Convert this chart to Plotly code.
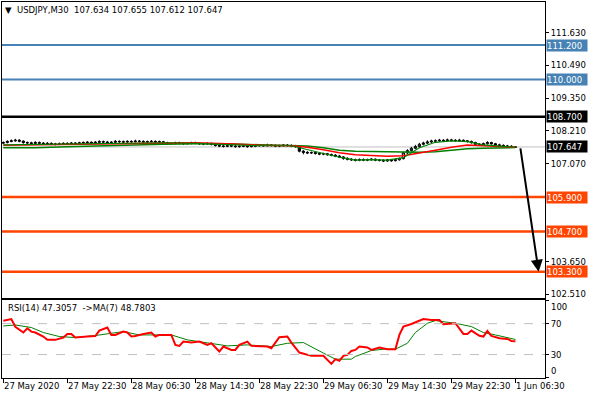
import plotly.graph_objects as go

# USDJPY M30 candles, one per bar index (27 May 14:30 .. 1 Jun 06:30)
opens = [
    107.78, 107.80, 107.84, 107.86, 107.88, 107.85, 107.80, 107.79, 107.77, 107.80,
    107.78, 107.76, 107.77, 107.75, 107.74, 107.75, 107.77, 107.76, 107.78, 107.77,
    107.79, 107.80, 107.81, 107.78, 107.81, 107.83, 107.82, 107.80, 107.81, 107.84,
    107.83, 107.82, 107.84, 107.83, 107.85, 107.84, 107.82, 107.83, 107.84, 107.82,
    107.83, 107.80, 107.76, 107.77, 107.79, 107.78, 107.76, 107.77, 107.79, 107.78,
    107.76, 107.75, 107.77, 107.74, 107.70, 107.68, 107.67, 107.69, 107.68, 107.66,
    107.67, 107.68, 107.66, 107.67, 107.69, 107.70, 107.69, 107.71, 107.70, 107.68,
    107.69, 107.71, 107.70, 107.68, 107.66, 107.50, 107.46, 107.44, 107.45, 107.42,
    107.40, 107.41, 107.38, 107.36, 107.33, 107.30, 107.25, 107.22, 107.20, 107.18,
    107.21, 107.19, 107.20, 107.22, 107.19, 107.18, 107.16, 107.19, 107.17, 107.20,
    107.24, 107.44, 107.52, 107.60, 107.66, 107.74, 107.78, 107.82, 107.85, 107.86,
    107.88, 107.87, 107.89, 107.88, 107.87, 107.88, 107.86, 107.84, 107.80, 107.74,
    107.72, 107.76, 107.80, 107.76, 107.72, 107.70, 107.68, 107.67, 107.634,
]
highs = [
    107.84, 107.88, 107.91, 107.93, 107.92, 107.88, 107.84, 107.83, 107.85, 107.84,
    107.82, 107.82, 107.81, 107.79, 107.80, 107.81, 107.81, 107.82, 107.82, 107.83,
    107.84, 107.85, 107.84, 107.85, 107.88, 107.87, 107.86, 107.85, 107.89, 107.88,
    107.87, 107.88, 107.88, 107.90, 107.89, 107.88, 107.87, 107.89, 107.88, 107.87,
    107.86, 107.83, 107.81, 107.83, 107.83, 107.81, 107.81, 107.83, 107.83, 107.81,
    107.80, 107.81, 107.80, 107.77, 107.74, 107.72, 107.73, 107.73, 107.72, 107.71,
    107.73, 107.72, 107.71, 107.74, 107.75, 107.74, 107.76, 107.75, 107.74, 107.73,
    107.75, 107.75, 107.74, 107.72, 107.69, 107.54, 107.50, 107.49, 107.49, 107.46,
    107.45, 107.44, 107.42, 107.40, 107.37, 107.33, 107.29, 107.26, 107.24, 107.25,
    107.25, 107.24, 107.26, 107.25, 107.23, 107.22, 107.23, 107.23, 107.24, 107.28,
    107.48, 107.57, 107.65, 107.72, 107.79, 107.83, 107.88, 107.90, 107.91, 107.93,
    107.92, 107.94, 107.93, 107.92, 107.93, 107.91, 107.89, 107.87, 107.83, 107.78,
    107.80, 107.85, 107.83, 107.79, 107.76, 107.74, 107.72, 107.71, 107.655,
]
lows = [
    107.74, 107.77, 107.81, 107.83, 107.81, 107.76, 107.75, 107.73, 107.74, 107.74,
    107.72, 107.73, 107.71, 107.70, 107.71, 107.72, 107.72, 107.73, 107.73, 107.74,
    107.76, 107.77, 107.74, 107.75, 107.78, 107.78, 107.76, 107.77, 107.78, 107.79,
    107.78, 107.79, 107.79, 107.80, 107.80, 107.78, 107.79, 107.80, 107.78, 107.79,
    107.76, 107.72, 107.73, 107.74, 107.74, 107.72, 107.73, 107.74, 107.74, 107.72,
    107.71, 107.72, 107.70, 107.66, 107.64, 107.63, 107.64, 107.64, 107.62, 107.62,
    107.64, 107.62, 107.63, 107.64, 107.66, 107.65, 107.66, 107.66, 107.64, 107.64,
    107.66, 107.66, 107.64, 107.62, 107.46, 107.39, 107.40, 107.40, 107.38, 107.36,
    107.36, 107.34, 107.32, 107.29, 107.26, 107.20, 107.18, 107.16, 107.14, 107.15,
    107.15, 107.15, 107.17, 107.15, 107.14, 107.12, 107.13, 107.13, 107.14, 107.17,
    107.21, 107.40, 107.49, 107.57, 107.63, 107.70, 107.75, 107.79, 107.81, 107.83,
    107.83, 107.84, 107.84, 107.83, 107.84, 107.82, 107.80, 107.76, 107.70, 107.68,
    107.69, 107.73, 107.72, 107.68, 107.66, 107.64, 107.63, 107.62, 107.612,
]
closes = [
    107.80, 107.84, 107.86, 107.88, 107.85, 107.80, 107.79, 107.77, 107.80, 107.78,
    107.76, 107.77, 107.75, 107.74, 107.75, 107.77, 107.76, 107.78, 107.77, 107.79,
    107.80, 107.81, 107.78, 107.81, 107.83, 107.82, 107.80, 107.81, 107.84, 107.83,
    107.82, 107.84, 107.83, 107.85, 107.84, 107.82, 107.83, 107.84, 107.82, 107.83,
    107.80, 107.76, 107.77, 107.79, 107.78, 107.76, 107.77, 107.79, 107.78, 107.76,
    107.75, 107.77, 107.74, 107.70, 107.68, 107.67, 107.69, 107.68, 107.66, 107.67,
    107.68, 107.66, 107.67, 107.69, 107.70, 107.69, 107.71, 107.70, 107.68, 107.69,
    107.71, 107.70, 107.68, 107.66, 107.50, 107.46, 107.44, 107.45, 107.42, 107.40,
    107.41, 107.38, 107.36, 107.33, 107.30, 107.25, 107.22, 107.20, 107.18, 107.21,
    107.19, 107.20, 107.22, 107.19, 107.18, 107.16, 107.19, 107.17, 107.20, 107.24,
    107.44, 107.52, 107.60, 107.66, 107.74, 107.78, 107.82, 107.85, 107.86, 107.88,
    107.87, 107.89, 107.88, 107.87, 107.88, 107.86, 107.84, 107.80, 107.74, 107.72,
    107.76, 107.80, 107.76, 107.72, 107.70, 107.68, 107.67, 107.66, 107.647,
]
bars = list(range(len(closes)))

# moving averages
ma_bars = [0, 8, 16, 24, 32, 40, 48, 56, 64, 72, 76, 80, 84, 88, 92, 96,
           100, 104, 108, 112, 116, 120, 124, 128]
ma_fast = [107.723, 107.741, 107.741, 107.758, 107.793, 107.793, 107.775, 107.723,
           107.689, 107.689, 107.550, 107.411, 107.290, 107.186, 107.203, 107.186,
           107.273, 107.619, 107.810, 107.862, 107.834, 107.723, 107.682, 107.637]
ma_mid = [107.706, 107.723, 107.723, 107.741, 107.775, 107.793, 107.793, 107.758,
          107.706, 107.689, 107.637, 107.550, 107.446, 107.377, 107.342, 107.325,
          107.342, 107.429, 107.533, 107.637, 107.716, 107.689, 107.671, 107.637]
ma_slow = [107.619, 107.619, 107.654, 107.689, 107.723, 107.741, 107.758, 107.758,
           107.723, 107.706, 107.678, 107.619, 107.533, 107.498, 107.481, 107.463,
           107.470, 107.463, 107.481, 107.533, 107.585, 107.602, 107.609, 107.626]

# RSI(14) and its MA(7)
rsi_bars = [0, 2, 3, 5, 6, 7, 8, 10, 11, 13, 15, 16, 17, 18, 21, 23, 24, 26, 27, 28,
            30, 31, 32, 33, 35, 37, 38, 39, 42, 43, 44, 45, 47, 49, 51, 52, 54, 55,
            57, 58, 59, 61, 62, 66, 67, 69, 71, 72, 74, 76, 77, 80, 81, 82, 83, 84,
            85, 86, 87, 88, 89, 91, 92, 94, 96, 98, 99, 100, 102, 103, 105, 107,
            109, 110, 112, 113, 115, 116, 117, 119, 120, 121, 122, 124, 126, 127, 128]
rsi_vals = [73.8, 75.9, 66, 58.5, 64, 59.7, 58.5, 53.3, 49, 49, 52, 56.7, 56.7, 52,
            53.3, 54, 61, 65, 55.4, 55.4, 59.7, 58.5, 53.3, 54, 56.7, 58.5, 53.3,
            55.4, 55.4, 42.5, 41.2, 46.8, 45.6, 46.8, 42.5, 44.6, 33.9, 40.4, 36, 36,
            42.5, 46.8, 41.2, 40.4, 38.2, 52.4, 53.3, 45.5, 32.6, 29.5, 28.3, 28.3,
            23.1, 17.9, 24, 21.8, 28.3, 29.5, 34.7, 36, 40.4, 39.1, 36, 39.1, 36.9,
            36.9, 55.4, 66.2, 69.5, 71.7, 76, 74.7, 74.7, 69.2, 69.5, 70.5, 56.7,
            56.7, 61, 54.2, 53.3, 60.5, 54.2, 51.1, 50.2, 47.6, 47.3]
sig_bars = [0, 3, 7, 10, 14, 18, 23, 30, 34, 38, 42, 46, 51, 56, 61, 67, 71, 75,
            80, 83, 87, 88, 92, 95, 98, 101, 103, 106, 108, 113, 117, 120, 123, 128]
sig_vals = [67, 68.3, 65, 58.5, 53.3, 52, 54.6, 59.7, 55.4, 55.4, 55.4, 49, 45.5,
            41.2, 42.5, 40.4, 44.6, 45.5, 31.9, 24, 24, 27.5, 35.2, 36.9, 36.9, 44.6,
            58.5, 70.5, 73.9, 70.5, 66.2, 58.5, 55.4, 49.5]

# horizontal levels
blue_levels = [111.2, 110.0]
black_level = 108.7
orange_levels = [105.9, 104.7, 103.3]
last_price = 107.647

price_ticks = [102.51, 103.65, 107.07, 108.21, 109.35, 110.49, 111.63]
time_ticks = [0, 16, 32, 48, 64, 80, 96, 112, 128]
time_labels = ["27 May 2020", "27 May 22:30", "28 May 06:30", "28 May 14:30",
               "28 May 22:30", "29 May 06:30", "29 May 14:30", "29 May 22:30",
               "1 Jun 06:30"]

FONT = "DejaVu Sans"
W, H = 590, 400
x_dom = [2 / W, 545 / W]
x_rng = [-0.33, 135.4]

fig = go.Figure()

fig.add_trace(go.Scatter(x=ma_bars, y=ma_slow, mode="lines",
                         line=dict(color="#008000", width=1.5), xaxis="x", yaxis="y"))
fig.add_trace(go.Scatter(x=ma_bars, y=ma_mid, mode="lines",
                         line=dict(color="#FF0000", width=1.5), xaxis="x", yaxis="y"))
fig.add_trace(go.Scatter(x=ma_bars, y=ma_fast, mode="lines",
                         line=dict(color="#008000", width=1.2), xaxis="x", yaxis="y"))
fig.add_trace(go.Candlestick(
    x=bars, open=opens, high=highs, low=lows, close=closes,
    increasing=dict(line=dict(color="black", width=1), fillcolor="white"),
    decreasing=dict(line=dict(color="black", width=1), fillcolor="black"),
    whiskerwidth=0, xaxis="x", yaxis="y",
))

fig.add_trace(go.Scatter(x=sig_bars, y=sig_vals, mode="lines",
                         line=dict(color="#008000", width=1), xaxis="x2", yaxis="y2"))
fig.add_trace(go.Scatter(x=rsi_bars, y=rsi_vals, mode="lines",
                         line=dict(color="#FF0000", width=2), xaxis="x2", yaxis="y2"))

# level lines
def hline(y, color, width, yref="y", dash="solid"):
    fig.add_shape(type="line", xref="x domain", x0=0, x1=1, yref=yref, y0=y, y1=y,
                  line=dict(color=color, width=width, dash=dash), layer="below")

hline(last_price, "#C0C0C0", 1)
for v in blue_levels:
    hline(v, "#4682B4", 2)
hline(black_level, "black", 2.5)
for v in orange_levels:
    hline(v, "#FF4500", 2.5)
fig.add_shape(type="line", xref="x2 domain", x0=0, x1=1, yref="y2", y0=70, y1=70,
              line=dict(color="#C0C0C0", width=1, dash="dash"))
fig.add_shape(type="line", xref="x2 domain", x0=0, x1=1, yref="y2", y0=30, y1=30,
              line=dict(color="#C0C0C0", width=1, dash="dash"))

# price boxes on the right scale
def price_box(v, color):
    fig.add_annotation(x=546 / W, xref="paper", y=v, yref="y", xanchor="left",
                       text=f"{v:.3f}", showarrow=False, bgcolor=color, width=40,
                       height=11, align="left", borderpad=0,
                       font=dict(family=FONT, size=8.5, color="white"))

for v in blue_levels:
    price_box(v, "#4682B4")
price_box(black_level, "black")
price_box(last_price, "black")
for v in orange_levels:
    price_box(v, "#FF4500")

# forecast arrow
fig.add_annotation(x=133.8, y=orange_levels[-1], ax=129.2, ay=last_price,
                   xref="x", yref="y", axref="x", ayref="y", text="",
                   showarrow=True, arrowhead=2, arrowsize=1.2, arrowwidth=2,
                   arrowcolor="black")

# time labels, left aligned at the tick like MT4
for b, t in zip(time_ticks, time_labels):
    fig.add_annotation(x=b, xref="x2", y=1 - 388 / H, yref="paper", text=t,
                       xanchor="left", yanchor="middle", xshift=-1, showarrow=False,
                       font=dict(family=FONT, size=8.5, color="black"))

# RSI scale labels
for v, anchor in [(100, "top"), (0, "bottom")]:
    fig.add_annotation(x=549 / W, xref="paper", y=v, yref="y2", text=str(v),
                       xanchor="left", yanchor=anchor, showarrow=False,
                       font=dict(family=FONT, size=8.5, color="black"))

fig.add_annotation(x=3 / W, xref="paper", y=1 - 10 / H, yref="paper",
                   text="▼  USDJPY,M30  107.634 107.655 107.612 107.647",
                   xanchor="left", yanchor="middle", showarrow=False,
                   font=dict(family=FONT, size=8.5, color="black"))
fig.add_annotation(x=6 / W, xref="paper", y=1 - 310 / H, yref="paper",
                   text="RSI(14) 47.3057  ->MA(7) 48.7803",
                   xanchor="left", yanchor="middle", showarrow=False,
                   font=dict(family=FONT, size=8.5, color="black"))

axis_common = dict(showgrid=False, zeroline=False, showline=True, linecolor="black",
                   linewidth=1, mirror=True)
fig.update_layout(
    width=W, height=H, margin=dict(l=0, r=0, t=0, b=0),
    paper_bgcolor="white", plot_bgcolor="white", showlegend=False, boxgap=0.2,
    xaxis=dict(domain=x_dom, range=x_rng, anchor="y", showticklabels=False,
               ticks="", rangeslider=dict(visible=False), **axis_common),
    yaxis=dict(domain=[1 - 299 / H, 1 - 2 / H], range=[102.401, 112.699], side="right",
               anchor="x", tickvals=price_ticks, tickformat=".3f", ticks="outside",
               ticklen=3, tickcolor="black",
               tickfont=dict(family=FONT, size=8.5, color="black"), **axis_common),
    xaxis2=dict(domain=x_dom, range=x_rng, anchor="y2", tickvals=time_ticks,
                showticklabels=False, ticks="outside", ticklen=4, tickcolor="black",
                **axis_common),
    yaxis2=dict(domain=[1 - 379.6 / H, 1 - 302 / H], range=[0, 100], side="right",
                anchor="x2", tickvals=[0, 30, 70, 100], ticktext=["", "30", "70", ""],
                ticks="outside", ticklen=3, tickcolor="black",
                tickfont=dict(family=FONT, size=8.5, color="black"), **axis_common),
)

# the page's default 8px body margin would push the 590x400 figure off-window
fig.write_html("out.html", config={"displayModeBar": False},
               post_script="document.body.style.margin='0';")
